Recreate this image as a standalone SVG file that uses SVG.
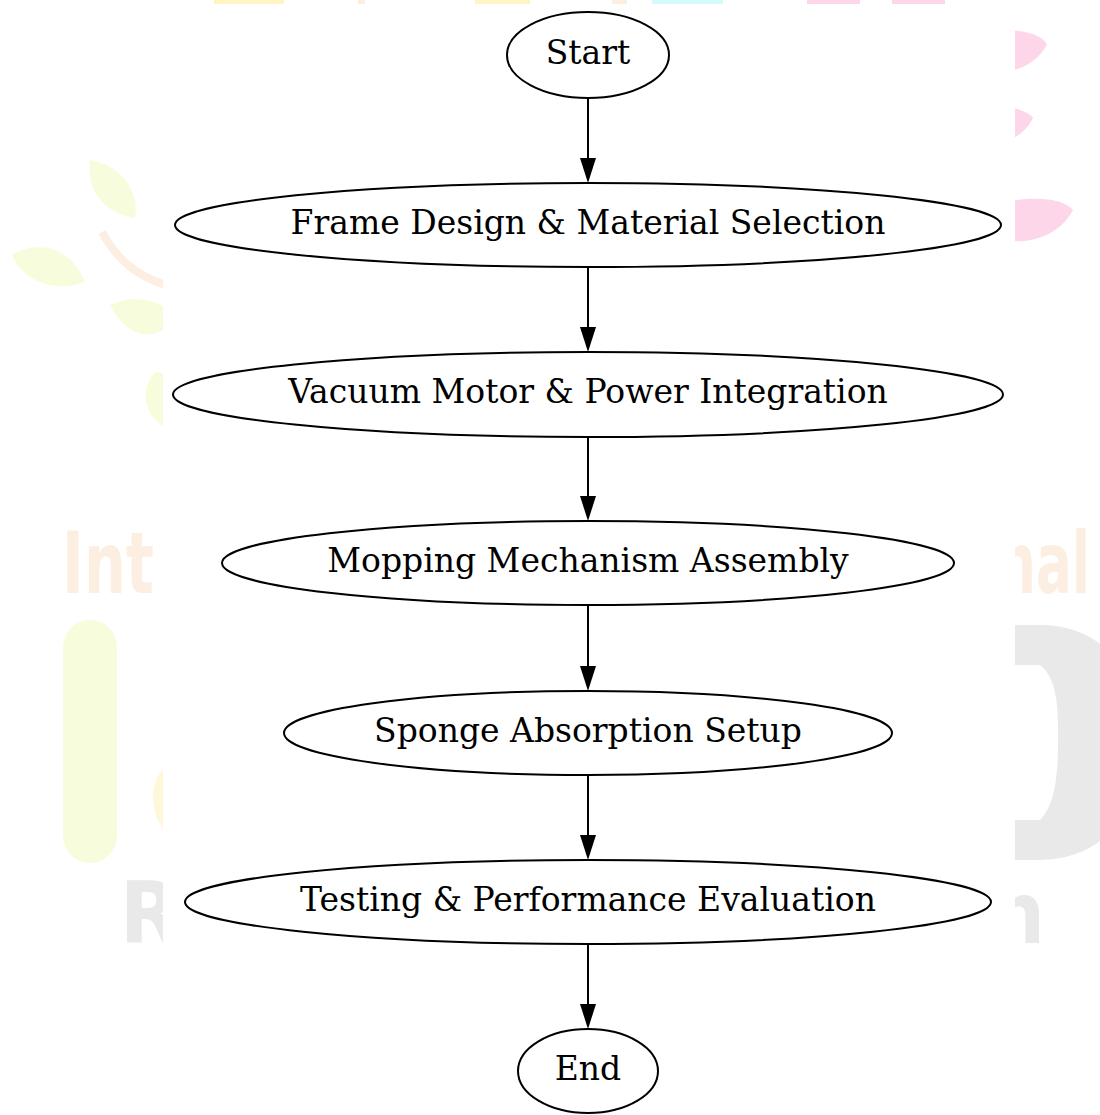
<svg xmlns="http://www.w3.org/2000/svg" width="1100" height="1115" viewBox="0 0 1100 1115">
  <defs>
    <style>
      .node ellipse { fill: #ffffff; stroke: #000000; stroke-width: 2; }
      .node text { font-family: "DejaVu Serif", "Liberation Serif", serif; font-size: 33px; fill: #000000; text-anchor: middle; }
      .edge { stroke: #000000; stroke-width: 2; fill: none; marker-end: url(#arrow); }
      .wm-green { fill: #f7fddc; }
      .wm-peach { fill: #fdeee2; }
      .wm-pink { fill: #fdd6ea; }
      .wm-grey { fill: #e9e9e9; }
      .wm-text { font-family: "DejaVu Sans Condensed", "DejaVu Sans", "Liberation Sans", sans-serif; font-weight: bold; font-size: 86px; }
    </style>
    <marker id="arrow" markerUnits="userSpaceOnUse" viewBox="0 0 25 16" markerWidth="25" markerHeight="16" refX="5" refY="8" orient="auto">
      <path d="M0,0 L25,8 L0,16 Z" fill="#000000"/>
    </marker>
    <clipPath id="sides">
      <rect x="0" y="0" width="163" height="1115"/>
      <rect x="1015" y="0" width="85" height="1115"/>
    </clipPath>
  </defs>
  <rect x="0" y="0" width="1100" height="1115" fill="#ffffff"/>

  <g id="watermark" clip-path="url(#sides)">
    <path class="wm-green" d="M90,160 C120,165 140,190 135,218 C110,215 85,195 90,160 Z"/>
    <path d="M102,232 C118,262 140,278 170,286" stroke="#fdeee2" stroke-width="8" fill="none"/>
    <path class="wm-green" d="M12,255 C35,240 70,245 85,282 C60,292 25,285 12,255 Z"/>
    <path class="wm-green" d="M110,305 C130,295 160,298 175,315 C165,340 130,345 110,305 Z"/>
    <path class="wm-green" d="M155,372 C175,372 180,400 172,430 C150,425 135,395 155,372 Z"/>
    <text class="wm-text wm-peach" x="62" y="593" textLength="92" lengthAdjust="spacingAndGlyphs">Int</text>
    <rect class="wm-green" x="63" y="620" width="54" height="243" rx="27"/>
    <path d="M165,768 C150,780 148,810 165,832 Z" fill="#fff8d8"/>
    <text class="wm-text wm-grey" x="120" y="943">R</text>
    <path class="wm-pink" d="M1005,30 C1030,30 1045,38 1047,45 C1035,65 1015,72 1005,70 Z"/>
    <path class="wm-pink" d="M1005,107 C1020,108 1032,115 1033,118 C1027,130 1015,140 1005,140 Z"/>
    <path class="wm-pink" d="M1005,202 C1040,195 1065,200 1073,210 C1060,235 1030,245 1005,240 Z"/>
    <text class="wm-text wm-peach" x="998" y="593" textLength="92" lengthAdjust="spacingAndGlyphs">nal</text>
    <path class="wm-grey" fill-rule="evenodd" d="M1000,625 L1040,625 C1120,625 1145,700 1145,742 C1145,800 1110,860 1040,860 L1000,860 Z M1000,665 L1040,665 C1060,680 1058,720 1058,742 C1058,775 1055,805 1040,820 L1000,820 Z"/>
    <text class="wm-text wm-grey" x="990" y="943">n</text>
  </g>
  <g id="caption-strip">
    <rect x="214" y="0" width="70" height="4" fill="#fff4c4"/>
    <rect x="358" y="0" width="7" height="4" fill="#fdeee2"/>
    <rect x="475" y="0" width="55" height="4" fill="#fff4c4"/>
    <rect x="612" y="0" width="15" height="4" fill="#fdeee2"/>
    <rect x="652" y="0" width="71" height="4" fill="#d4fbfb"/>
    <rect x="807" y="0" width="53" height="4" fill="#fdd6ea"/>
    <rect x="892" y="0" width="53" height="4" fill="#fdd6ea"/>
  </g>

  <g id="edges">
    <line class="edge" x1="588" y1="98" x2="588" y2="163"/>
    <line class="edge" x1="588" y1="267" x2="588" y2="332"/>
    <line class="edge" x1="588" y1="437" x2="588" y2="501"/>
    <line class="edge" x1="588" y1="605" x2="588" y2="671"/>
    <line class="edge" x1="588" y1="775" x2="588" y2="840"/>
    <line class="edge" x1="588" y1="944" x2="588" y2="1009"/>
  </g>

  <g id="start" class="node">
    <ellipse cx="588" cy="55" rx="81" ry="43"/>
    <text x="588" y="64">Start</text>
  </g>
  <g id="frame" class="node">
    <ellipse cx="588" cy="225" rx="413" ry="42"/>
    <text x="588" y="234">Frame Design &amp; Material Selection</text>
  </g>
  <g id="vacuum" class="node">
    <ellipse cx="588" cy="394.5" rx="415" ry="42.5"/>
    <text x="588" y="403">Vacuum Motor &amp; Power Integration</text>
  </g>
  <g id="mopping" class="node">
    <ellipse cx="588" cy="563" rx="366" ry="42"/>
    <text x="588" y="572">Mopping Mechanism Assembly</text>
  </g>
  <g id="sponge" class="node">
    <ellipse cx="588" cy="733" rx="304" ry="42"/>
    <text x="588" y="742">Sponge Absorption Setup</text>
  </g>
  <g id="testing" class="node">
    <ellipse cx="588" cy="902" rx="403" ry="42"/>
    <text x="588" y="911">Testing &amp; Performance Evaluation</text>
  </g>
  <g id="end" class="node">
    <ellipse cx="588" cy="1071" rx="70" ry="42"/>
    <text x="588" y="1080">End</text>
  </g>
</svg>
